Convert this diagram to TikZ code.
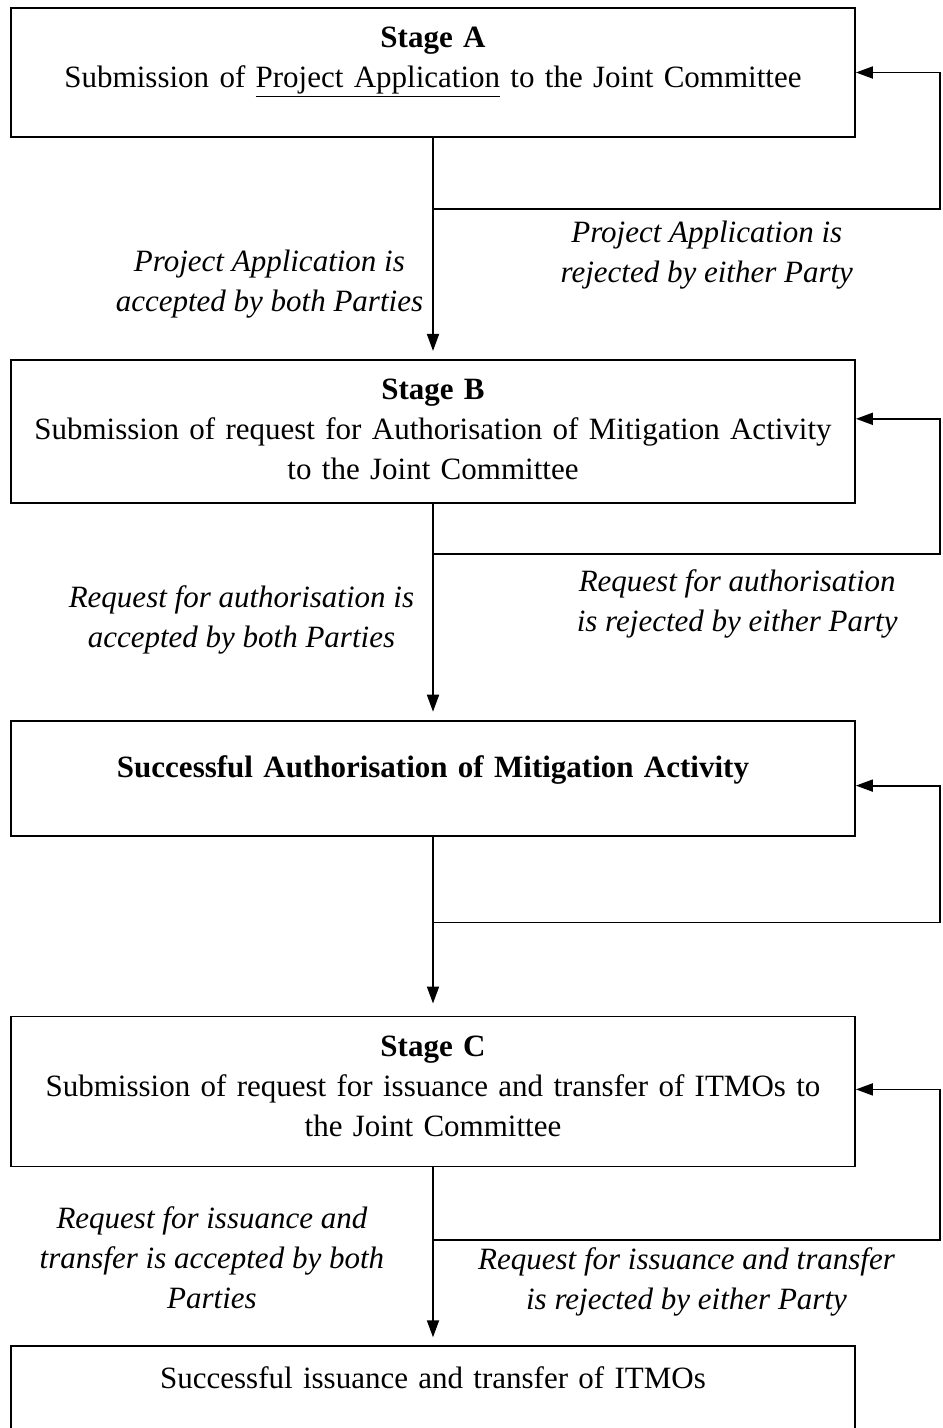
\documentclass[tikz,border=0pt]{standalone}
\usepackage{fontspec}
\setmainfont{Liberation Serif}
\usepackage{tikz}
\usetikzlibrary{arrows.meta,positioning}
\newcommand\flowfont{\fontsize{31pt}{40pt}\selectfont}
\tikzset{
  stagebox/.style={draw,line width=1.8pt,align=center,text width=820pt,
    inner xsep=12pt,font=\flowfont},
  arrow/.style={-{Triangle[length=17pt,width=12pt]},line width=1.8pt},
  tag/.style={font=\flowfont\itshape,align=center,inner sep=6pt}
}

\begin{document}
\begin{tikzpicture}[x=1pt,y=-1pt]
  \useasboundingbox (0,0) rectangle (943,1428);
  \node[stagebox,minimum height=129pt,text depth=70pt] (stageA) at (433,72.5)
    {\textbf{Stage A}\\Submission of \underline{Project Application} to the Joint Committee};
  \node[stagebox,minimum height=143pt,text depth=85pt,below=221pt of stageA] (stageB)
    {\textbf{Stage B}\\Submission of request for Authorisation of Mitigation Activity\\to the Joint Committee};
  \node[stagebox,minimum height=115pt,text depth=24pt,below=216pt of stageB] (auth)
    {\textbf{Successful Authorisation of Mitigation Activity}};
  \node[stagebox,minimum height=150pt,text depth=91pt,below=179pt of auth] (stageC)
    {\textbf{Stage C}\\Submission of request for issuance and transfer of ITMOs to\\the Joint Committee};
  \node[stagebox,minimum height=92pt,text depth=30pt,below=178pt of stageC] (itmo)
    {Successful issuance and transfer of ITMOs};
  % loop-back corners
  \coordinate (xr) at (940,0);
  \coordinate[below=71pt of stageA] (jA);
  \coordinate[below=50pt of stageB] (jB);
  \coordinate[below=86pt of auth] (jAuth);
  \coordinate[below=73pt of stageC] (jC);
  % main flow
  \draw[arrow,shorten >=8pt] (stageA) -- node[tag,left,pos=0.66,xshift=-3pt]{Project Application is\\accepted by both Parties} (stageB);
  \draw[arrow,shorten >=8pt] (stageB) -- node[tag,left,pos=0.54,xshift=-12pt]{Request for authorisation is\\accepted by both Parties} (auth);
  \draw[arrow,shorten >=12pt] (auth) -- (stageC);
  \draw[arrow,shorten >=8pt] (stageC) -- node[tag,left,pos=0.51,xshift=-42pt]{Request for issuance and\\transfer is accepted by both\\Parties} (itmo);
  % rejections
  \draw[arrow] (jA) -- node[tag,below,pos=0.54,yshift=-5pt]{Project Application is\\rejected by either Party} (jA -| xr) |- (stageA.east);
  \draw[arrow] (jB) -- node[tag,below,pos=0.6,yshift=-9pt]{Request for authorisation\\is rejected by either Party} (jB -| xr) |- ([yshift=12.5pt]stageB.east);
  \draw[arrow] (jAuth) -- (jAuth -| xr) |- ([yshift=-7.5pt]auth.east);
  \draw[arrow] (jC) -- node[tag,below,pos=0.5]{Request for issuance and transfer\\is rejected by either Party} (jC -| xr) |- ([yshift=2pt]stageC.east);
\end{tikzpicture}
\end{document}
